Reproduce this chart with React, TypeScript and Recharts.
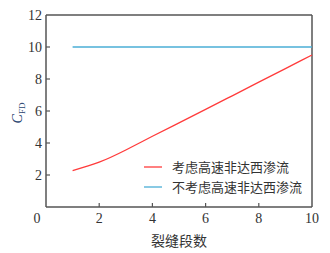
import { LineChart, Line, XAxis, YAxis, ReferenceLine, Label } from 'recharts';

const segments = [1, 2, 3, 4, 5, 6, 7, 8, 9, 10];
const withNonDarcy = [2.28, 2.8, 3.56, 4.42, 5.26, 6.1, 6.95, 7.8, 8.65, 9.5];
const withoutNonDarcy = [10, 10, 10, 10, 10, 10, 10, 10, 10, 10];
const xTicks = [0, 2, 4, 6, 8, 10];
const yTicks = [2, 4, 6, 8, 10, 12];

const seriesNames = ['考虑高速非达西渗流', '不考虑高速非达西渗流'];
const colors = ['#ff3b3b', '#4aaed6'];

const data = segments.map((n, i) => ({ n, a: withNonDarcy[i], b: withoutNonDarcy[i] }));

const axisColor = '#555';
const textColor = '#333';
const numFont = '"Liberation Serif", "Times New Roman", serif';
const cjkFont = '"Noto Sans CJK SC", sans-serif';

const XTick = (props: any) => {
  const { x, y, payload } = props;
  const v = payload.value;
  return (
    <g>
      {v !== 0 && v !== 10 && <line x1={x} y1={y} x2={x} y2={y - 4} stroke={axisColor} strokeWidth={1.2} />}
      <text x={v === 0 ? x - 9 : x} y={y + 16} textAnchor="middle" fill={textColor} fontSize={14} fontFamily={numFont}>
        {v}
      </text>
    </g>
  );
};

const YTick = (props: any) => {
  const { x, y, payload } = props;
  return (
    <g>
      {payload.value !== 12 && <line x1={x} y1={y} x2={x + 4} y2={y} stroke={axisColor} strokeWidth={1.2} />}
      <text x={x - 4} y={y + 5} textAnchor="end" fill={textColor} fontSize={14} fontFamily={numFont}>
        {payload.value}
      </text>
    </g>
  );
};

export default function App() {
  return (
    <div style={{ position: 'absolute', left: 0, top: 0, width: 330, height: 253, background: '#fff' }}>
      <LineChart width={330} height={253} data={data} margin={{ top: 15, right: 18, left: 16, bottom: 16 }}>
        <XAxis
          dataKey="n"
          type="number"
          domain={[0, 10]}
          ticks={xTicks}
          tick={<XTick />}
          tickLine={false}
          tickSize={0}
          tickMargin={0}
          height={30}
          stroke={axisColor}
          strokeWidth={1.5}
          interval={0}
        >
          <Label
            value="裂缝段数"
            position="insideBottom"
            offset={-9}
            fill={textColor}
            fontSize={14}
            fontFamily={cjkFont}
          />
        </XAxis>
        <YAxis
          type="number"
          domain={[0, 12]}
          ticks={yTicks}
          tick={<YTick />}
          tickLine={false}
          tickSize={0}
          tickMargin={0}
          width={30}
          stroke={axisColor}
          strokeWidth={1.5}
          interval={0}
        />
        <ReferenceLine y={12} stroke={axisColor} strokeWidth={1.5} />
        <ReferenceLine x={10} stroke={axisColor} strokeWidth={1.5} />
        <Line type="monotone" dataKey="b" stroke={colors[1]} strokeWidth={1.3} dot={false} isAnimationActive={false} />
        <Line type="natural" dataKey="a" stroke={colors[0]} strokeWidth={1.3} dot={false} isAnimationActive={false} />
      </LineChart>
      <svg width={330} height={253} style={{ position: 'absolute', left: 0, top: 0, pointerEvents: 'none' }}>
        <text
          transform="translate(22,113) rotate(-90)"
          textAnchor="middle"
          fill="#2a4470"
          fontSize={14}
          fontFamily={numFont}
        >
          <tspan fontStyle="italic">C</tspan>
          <tspan fontSize={9} dy={3}>FD</tspan>
        </text>
        {seriesNames.map((name, i) => (
          <g key={name}>
            <line x1={144} x2={162} y1={167 + i * 20} y2={167 + i * 20} stroke={colors[i]} strokeWidth={1.3} />
            <text x={172} y={172 + i * 20} fill={textColor} fontSize={13} fontFamily={cjkFont}>
              {name}
            </text>
          </g>
        ))}
      </svg>
    </div>
  );
}
